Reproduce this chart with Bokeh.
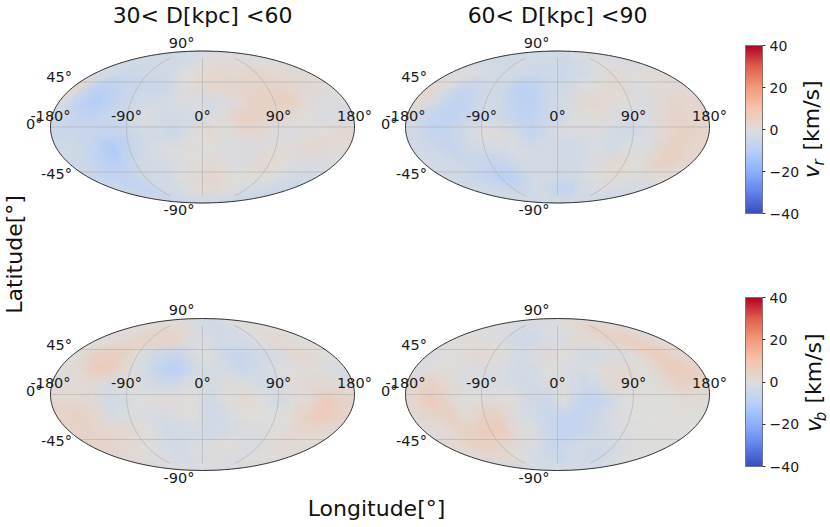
import math

import numpy as np
from bokeh.core.properties import value
from bokeh.embed import file_html
from bokeh.models import ColorBar, ColumnDataSource, FixedTicker, LinearColorMapper, Range1d
from bokeh.plotting import figure
from bokeh.resources import INLINE

# sky maps, km/s, rows run from lat 82 down to lat -82, columns from lon -170 to 170
lat_edges = [90, 75, 60, 45, 30, 15, 0, -15, -30, -45, -60, -75, -90]
lon_edges = list(range(-180, 181, 20))

vr_near = [
    [-3, -3, -3, -3, -3, -3, -2, -2, -2, -1, -1, -1, -1, -1, -1, -1, -1, -1],
    [-2, -3, -3, -3, -3, -3, -3, -2, -1, 1, 1, 1, 1, 1, 1, 0, 0, 0],
    [-2, -3, -5, -4, -4, -4, -3, 0, 1, 3, 3, 2, 3, 4, 3, 3, 2, 2],
    [2, -8, -9, -6, -5, -5, -5, -1, 1, 3, 3, 4, 4, 4, 4, 3, 2, 1],
    [-2, -9, -11, -7, -4, -3, -2, -1, -1, -2, -1, 2, 5, 5, 6, 1, -1, -1],
    [-3, -6, -7, -5, -4, 0, -2, -2, -2, -1, 1, 6, 4, 3, 1, 0, -1, -1],
    [-5, -5, -5, -7, -6, -3, -3, -5, 0, 3, 0, 2, 3, -1, -1, 1, 1, 3],
    [-3, -4, -8, -12, -7, -3, -1, 0, 1, 0, -1, -1, -1, 1, 1, 3, 2, 1],
    [-4, -5, -9, -9, -4, -2, -2, -1, 0, 2, 1, -1, 2, 3, 0, -1, -1, -1],
    [-5, -7, -7, -6, -4, -3, -2, 0, 2, 3, 3, 0, 0, 0, 0, -2, -3, -3],
    [-4, -5, -7, -7, -4, -3, -2, -1, 1, 2, 2, 0, -1, -2, -3, -3, -4, -4],
    [-4, -4, -4, -4, -4, -4, -3, -3, -2, -2, -2, -3, -3, -3, -4, -4, -4, -4],
]
vr_far = [
    [-3, -3, -3, -3, -3, -3, -2, -3, -3, -3, -3, -2, -2, -2, -1, -1, -1, -1],
    [-2, -3, -3, -3, -2, -2, -3, -3, -3, -4, -4, -2, -2, 0, 0, -1, -1, -1],
    [-1, 0, -1, -2, -3, -3, -4, -5, -4, -5, -3, -2, 0, 2, 1, 0, 1, 1],
    [3, -1, -6, -5, -3, -5, -10, -8, -4, -3, -1, 0, 3, 2, -1, 1, 1, 2],
    [2, -3, -8, -7, -3, -4, -8, -9, -4, -2, 2, 3, 1, 0, -1, 2, 4, 3],
    [-2, -7, -8, -6, -3, -3, -6, -8, -4, -2, 0, 1, -1, -2, -1, 3, 4, 3],
    [-3, -6, -7, -3, 0, 1, -2, -7, -3, -1, -1, -1, -3, -3, -1, 3, 5, 4],
    [-3, -4, -6, -4, -3, -2, -1, -3, -2, -4, -3, -1, -3, 0, -1, 4, 5, 3],
    [-3, -3, -4, -5, -6, -6, -3, -2, -2, -3, -2, -1, 2, 3, 0, 4, 5, 3],
    [-3, -4, -5, -7, -9, -9, -5, -2, -3, -4, -3, -1, 0, 2, 0, -1, 1, 1],
    [-3, -3, -3, -4, -5, -4, -3, -3, -5, -7, -6, -3, -2, -1, -1, -2, -2, -2],
    [-3, -3, -3, -3, -3, -3, -3, -3, -3, -3, -3, -3, -3, -3, -3, -3, -3, -3],
]
vb_near = [
    [0, 0, 0, 0, 0, -1, -1, -2, -2, -3, -3, -3, -2, -1, 0, 0, 0, 0],
    [1, 1, 2, 3, 3, 3, 3, 1, -2, -2, -3, -3, -2, -1, 0, 1, 1, 0],
    [0, 1, 2, 4, 4, 4, 4, 2, -1, -1, -3, -2, -2, -1, 1, 2, 1, 0],
    [1, 5, 6, 5, 0, -3, -5, -6, -1, 0, -4, -6, -4, -3, -1, 3, 2, 0],
    [0, 2, 7, 5, 1, -3, -8, -10, -3, -2, -2, -5, -3, -1, 0, 1, 0, -2],
    [1, 1, 1, -2, 0, -1, -3, -2, 0, -2, 1, 0, -2, -2, 1, 2, 2, 1],
    [3, 3, 2, -3, -2, 0, 1, 1, 0, -4, 0, 3, 0, -3, 1, 3, 8, 4],
    [4, 5, 3, -2, 0, -1, -2, -1, 0, -4, -2, 0, 0, 0, 1, 5, 7, 4],
    [4, 4, 3, 3, 2, 0, -3, -3, -2, -3, -3, -1, -1, 0, 1, 3, 3, 2],
    [4, 4, 3, 2, 0, -1, -2, -2, -1, -1, 1, 0, -1, -1, 1, 1, 1, 1],
    [2, 2, 1, 0, -1, -1, -2, -2, -1, -1, 0, -1, -1, -1, 0, 1, 1, 1],
    [-1, -1, -1, -1, -1, -1, -1, -1, -1, -1, -1, -1, -1, -1, -1, -1, -1, -1],
]
vb_far = [
    [-1, -1, -1, -1, -1, -1, -1, -1, -1, 0, 1, 1, 1, 1, 1, 1, 1, 1],
    [0, 0, -1, -1, -2, -3, -2, -1, -1, -1, 0, 2, 4, 5, 4, 3, 2, 1],
    [1, 1, 1, 0, -1, -3, -4, -2, -1, -1, 2, 2, 1, 4, 5, 6, 4, 2],
    [-1, 0, 1, 3, 1, 0, -2, -1, 2, 0, -1, -3, -1, -1, 1, 5, 6, 3],
    [-1, 1, 0, -1, -1, -1, -3, -3, 0, -1, -2, 0, 3, 2, 0, 4, 7, 5],
    [3, 5, 3, -1, -1, -1, -2, -3, -1, 0, -4, -3, 3, 1, 0, 2, 5, 3],
    [3, 7, 4, 0, 1, 1, 0, -4, -5, 0, -7, -7, -2, 0, 0, 0, 1, 1],
    [2, 4, 5, 1, 5, 5, -1, -2, -5, -6, -6, -4, -1, 0, 0, 0, 1, 0],
    [1, 1, 4, 5, 7, 6, 0, -1, -5, -7, -6, -4, -2, -1, 0, 0, 0, 0],
    [2, 3, 5, 5, 4, 2, -1, -1, -5, -5, -3, -3, -3, -2, -1, 0, 0, 0],
    [1, 2, 3, 3, 1, 0, -2, -3, -5, -5, -3, -3, -5, -4, -2, -1, 0, 0],
    [-2, -2, -2, -2, -2, -2, -2, -2, -2, -2, -2, -2, -2, -2, -2, -2, -2, -2],
]

titles = ["30< D[kpc] <60", "60< D[kpc] <90"]
lon_ticks = [-180, -90, 0, 90, 180]
lat_ticks = [90, 45, 0, -45, -90]
cbar_ticks = [-40, -20, 0, 20, 40]

# coolwarm anchors
cw = [(59, 76, 192), (98, 130, 234), (141, 176, 254), (184, 208, 249), (221, 221, 221),
      (245, 196, 173), (244, 154, 123), (222, 96, 77), (180, 4, 38)]
cw = np.array(cw, dtype=float)
pos = np.linspace(0, 1, len(cw))
coolwarm = ["#%02x%02x%02x" % tuple(int(round(np.interp(t, pos, cw[:, k]))) for k in range(3))
            for t in np.linspace(0, 1, 256)]
mapper = LinearColorMapper(palette=coolwarm, low=-40, high=40)


def mollweide(lon, lat):
    # returns x, y in units of the half axes
    phi = math.radians(lat)
    if abs(lat) == 90:
        theta = phi
    else:
        theta = phi
        for _ in range(50):
            theta -= (2 * theta + math.sin(2 * theta) - math.pi * math.sin(phi)) / (2 + 2 * math.cos(2 * theta))
    return lon / 180 * math.cos(theta), math.sin(theta)


A, B = 152, 76  # half axes on the page


def place(cx, cy, lons, lats):
    xs, ys = [], []
    for lon, lat in zip(lons, lats):
        mx, my = mollweide(lon, lat)
        xs.append(cx + A * mx)
        ys.append(cy - B * my)
    return xs, ys


p = figure(width=830, height=527, x_range=Range1d(0, 830), y_range=Range1d(527, 0),
           output_backend="svg", toolbar_location=None, min_border=0)
p.axis.visible = False
p.grid.visible = False
p.outline_line_color = None

font = value("DejaVu Sans")


def draw_cells(cx, cy, rows, grow, alpha):
    # each read value is one patch, grown past its cell so neighbours blend
    xs, ys, vals = [], [], []
    for i, row in enumerate(rows):
        lat1, lat2 = lat_edges[i], lat_edges[i + 1]
        dlat = (lat1 - lat2) * (grow - 1) / 2
        lat1, lat2 = min(lat1 + dlat, 90), max(lat2 - dlat, -90)
        for j, v in enumerate(row):
            lon1, lon2 = lon_edges[j], lon_edges[j + 1]
            dlon = (lon2 - lon1) * (grow - 1) / 2
            lon1, lon2 = max(lon1 - dlon, -180), min(lon2 + dlon, 180)
            steps = list(np.linspace(lat1, lat2, 6))
            lons = [lon1] * 6 + [lon2] * 6
            lats = steps + steps[::-1]
            x, y = place(cx, cy, lons, lats)
            xs.append(x)
            ys.append(y)
            vals.append(v)
    src = ColumnDataSource(data=dict(xs=xs, ys=ys, v=vals))
    colour = {"field": "v", "transform": mapper}
    if alpha == 1:
        p.patches("xs", "ys", source=src, fill_color=colour, line_color=colour, line_width=0.6)
    else:
        p.patches("xs", "ys", source=src, fill_color=colour, line_color=None, fill_alpha=alpha)


def draw_panel(cx, cy, rows):
    draw_cells(cx, cy, rows, 1, 1)
    draw_cells(cx, cy, rows, 1.9, 0.3)
    draw_cells(cx, cy, rows, 1.45, 0.3)

    # graticule
    for lat in [45, 0, -45]:
        x, y = place(cx, cy, [-180, 180], [lat, lat])
        p.line(x, y, line_color="#b0b0b0", line_width=0.8, line_alpha=0.8)
    for lon in [-90, 0, 90]:
        lats = list(np.linspace(-75, 75, 41))
        x, y = place(cx, cy, [lon] * 41, lats)
        p.line(x, y, line_color="#b0b0b0", line_width=0.8, line_alpha=0.8)

    # outline
    lats = list(np.linspace(-90, 90, 121))
    x, y = place(cx, cy, [-180] * 121 + [180] * 121, lats + lats[::-1])
    p.line(x + x[:1], y + y[:1], line_color="#222222", line_width=0.9)

    # tick labels
    x, y = place(cx, cy, lon_ticks, [0] * 5)
    p.text(x, [v - 11.5 for v in y], text=["%d°" % t for t in lon_ticks], text_font=font,
           text_font_size="14.5px", text_color="#1a1a1a", text_align="center", text_baseline="middle")
    x, y = place(cx, cy, [-180] * 5, lat_ticks)
    dy = [-8.5, -5, -3.5, 2, 7]
    p.text([v - 8 for v in x], [v + d for v, d in zip(y, dy)], text=["%d°" % t for t in lat_ticks],
           text_font=font, text_font_size="14.5px", text_color="#1a1a1a", text_align="right",
           text_baseline="middle")


centers_x = [202, 557]
centers_y = [126.5, 394]
draw_panel(centers_x[0], centers_y[0], vr_near)
draw_panel(centers_x[1], centers_y[0], vr_far)
draw_panel(centers_x[0], centers_y[1], vb_near)
draw_panel(centers_x[1], centers_y[1], vb_far)

p.text(centers_x, [15, 15], text=titles, text_font=font, text_font_size="22px", text_color="#111111",
       text_align="center", text_baseline="middle")
p.text([376], [508], text=["Longitude[°]"], text_font=font, text_font_size="22px", text_color="#111111",
       text_align="center", text_baseline="middle")
p.text([14], [254], text=["Latitude[°]"], text_font=font, text_font_size="22px", text_color="#111111",
       angle=math.pi / 2, text_align="center", text_baseline="middle")


def side_label(x, y_v, y_sub, y_unit, sub):
    p.text([x], [y_v], text=["v"], text_font=font, text_font_size="22px", text_font_style="italic",
           text_color="#111111", angle=math.pi / 2, text_align="center", text_baseline="middle")
    p.text([x + 7], [y_sub], text=[sub], text_font=font, text_font_size="15px", text_font_style="italic",
           text_color="#111111", angle=math.pi / 2, text_align="center", text_baseline="middle")
    p.text([x], [y_unit], text=["[km/s]"], text_font=font, text_font_size="22px", text_color="#111111",
           angle=math.pi / 2, text_align="center", text_baseline="middle")


side_label(811, 171, 162, 115, "r")
side_label(813, 425, 416, 368, "b")

labels = {t: str(t).replace("-", "\u2212") for t in cbar_ticks}
for bottom, h in [(314, 168), (61, 169)]:
    bar = ColorBar(color_mapper=mapper, location=(745, bottom), width=17, height=h, padding=0, margin=0,
                   ticker=FixedTicker(ticks=cbar_ticks), major_label_overrides=labels,
                   major_label_text_font="DejaVu Sans", major_label_text_font_size="14px",
                   major_label_text_color="#1a1a1a", bar_line_color="#777777", bar_line_width=1,
                   major_tick_line_color="#333333", major_tick_in=0, major_tick_out=3,
                   minor_tick_line_color=None, label_standoff=4, background_fill_color=None)
    p.add_layout(bar, "center")

open("out.html", "w").write(file_html(p, INLINE))
